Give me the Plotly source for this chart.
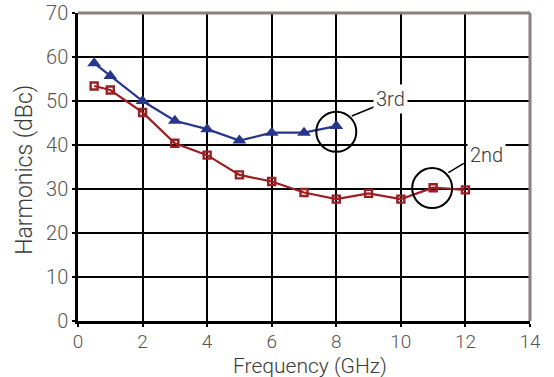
import plotly.graph_objects as go

freq_3rd = [0.5, 1, 2, 3, 4, 5, 6, 7, 8]
h3 = [58.6, 55.7, 50.0, 45.5, 43.6, 41.0, 42.8, 42.8, 44.3]

freq_2nd = [0.5, 1, 2, 3, 4, 5, 6, 7, 8, 9, 10, 11, 12]
h2 = [53.4, 52.5, 47.4, 40.4, 37.7, 33.2, 31.7, 29.2, 27.7, 29.0, 27.7, 30.3, 29.8]

x_ticks = [0, 2, 4, 6, 8, 10, 12, 14]
y_ticks = [0, 10, 20, 30, 40, 50, 60, 70]

BLUE = "#26368c"
RED = "#9a1e22"
FONT = "Roboto"
TXT = "#3a3a3a"

fig = go.Figure()
fig.add_trace(go.Scatter(
    x=freq_2nd, y=h2, mode="lines+markers",
    line=dict(color=RED, width=2.2),
    marker=dict(symbol="square-open", size=7, color=RED, line=dict(color=RED, width=2.4)),
    showlegend=False, cliponaxis=False))
fig.add_trace(go.Scatter(
    x=freq_3rd, y=h3, mode="lines+markers",
    line=dict(color=BLUE, width=2.2),
    marker=dict(symbol="triangle-up", size=12, color=BLUE),
    showlegend=False, cliponaxis=False))

axis_common = dict(
    showgrid=True, gridcolor="black", gridwidth=1.8,
    showline=True, linecolor="black", linewidth=2.5,
    ticks="outside", ticklen=3, tickwidth=2, tickcolor="black",
    tickfont=dict(family=FONT, size=20, color="#555555", weight=300),
    zeroline=False, automargin=False,
)

fig.update_xaxes(range=[0, 14], tickvals=x_ticks, **axis_common)
fig.update_xaxes(tickfont=dict(size=19), ticklabelstandoff=-2)
fig.update_yaxes(range=[0, 70], tickvals=y_ticks, **axis_common)

# axis titles
fig.add_annotation(xref="paper", yref="paper", x=0.514, y=-0.145, yanchor="middle",
                   text="Frequency (GHz)", showarrow=False,
                   font=dict(family=FONT, size=21, color=TXT, weight=300))
fig.add_annotation(xref="paper", yref="paper", x=-0.12, y=0.49, xanchor="center",
                   text="Harmonics (dBc)", showarrow=False, textangle=-90,
                   font=dict(family=FONT, size=23, color=TXT, weight=300))

# top and right frame in gray
fig.add_shape(type="line", xref="paper", yref="paper", x0=0, x1=1, y0=1, y1=1,
              line=dict(color="#8a8080", width=3))
fig.add_shape(type="line", xref="paper", yref="paper", x0=1, x1=1, y0=0, y1=1,
              line=dict(color="#8a8080", width=3))

# callout circles
for cx, cy in [(8.0, 43.0), (10.97, 30.2)]:
    fig.add_shape(type="circle", xref="x", yref="y", xsizemode="pixel", ysizemode="pixel",
                  xanchor=cx, yanchor=cy, x0=-20, x1=20, y0=-20, y1=20,
                  line=dict(color="black", width=2))

fig.add_shape(type="line", x0=8.48, y0=46.6, x1=9.22, y1=48.8, line=dict(color="black", width=1.5))
fig.add_shape(type="line", x0=11.47, y0=33.7, x1=11.95, y1=35.8, line=dict(color="black", width=1.5))

fig.add_annotation(x=9.69, y=50.45, text="3rd", showarrow=False, bgcolor="white",
                   borderpad=2, font=dict(family=FONT, size=20, color=TXT, weight=300),
                   xref="x", yref="y")
fig.add_annotation(x=12.66, y=37.7, text="2nd", showarrow=False, bgcolor="white",
                   borderpad=2, font=dict(family=FONT, size=20, color=TXT, weight=300),
                   xref="x", yref="y")

fig.update_layout(
    width=554, height=377,
    margin=dict(l=78, r=24, t=13, b=56),
    paper_bgcolor="white", plot_bgcolor="white",
)

fig.write_html("out.html")
